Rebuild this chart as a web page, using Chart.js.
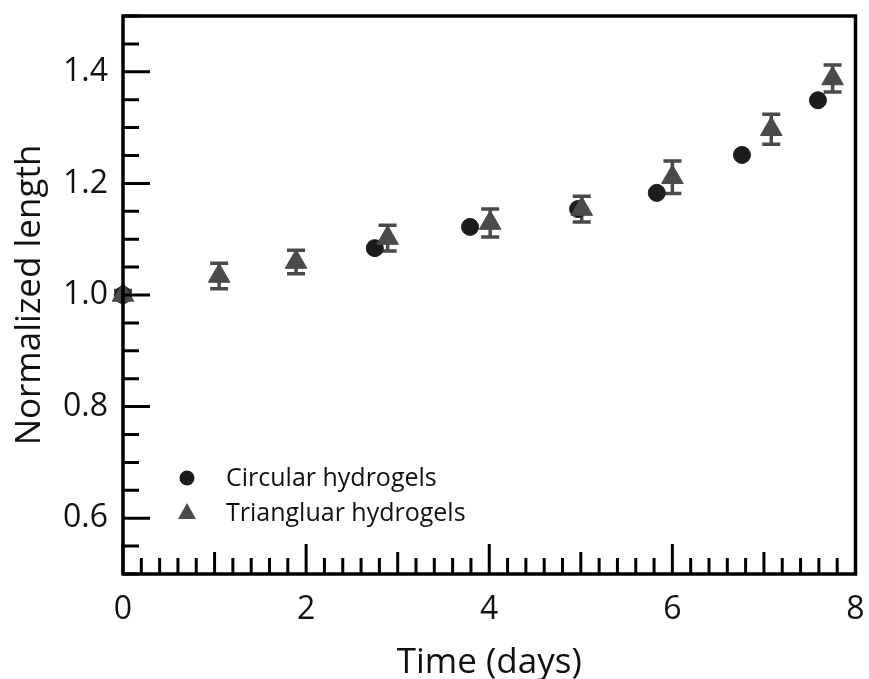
<!DOCTYPE html>
<html>
<head>
<meta charset="utf-8">
<script src="https://cdn.jsdelivr.net/npm/chart.js@4"></script>
<style>
  html, body { margin: 0; padding: 0; background: #fff; }
  #hydrogel_chart_box { width: 869px; height: 679px; }
</style>
</head>
<body>
<div id="hydrogel_chart_box"><canvas id="hydrogel_chart"></canvas></div>
<script>
// Normalized hydrogel length over time

const circular_days = [0, 2.75, 3.79, 4.97, 5.83, 6.76, 7.59]
const circular_length = [1.0, 1.084, 1.122, 1.154, 1.183, 1.251, 1.349]

const triangular_days = [0, 1.05, 1.89, 2.89, 4.01, 5.01, 6.0, 7.08, 7.75]
const triangular_length = [1.0, 1.034, 1.059, 1.102, 1.129, 1.154, 1.211, 1.297, 1.388]
const triangular_error = [0.008, 0.023, 0.021, 0.023, 0.025, 0.023, 0.029, 0.027, 0.024]

const x_tick_labels = [0, 2, 4, 6, 8]
const y_tick_labels = [0.6, 0.8, 1.0, 1.2, 1.4]

const font_family = '"Open Sans", "DejaVu Sans", sans-serif'
const circle_color = '#1c1c1c'
const triangle_color = '#4a4a4a'

const near = (a, b) => Math.abs(a - b) < 1e-6

// error bars drawn under the triangles
const error_bars = {
  id: 'error_bars',
  beforeDatasetsDraw(chart) {
    const { ctx, scales: { x, y } } = chart
    ctx.save()
    ctx.strokeStyle = triangle_color
    ctx.lineWidth = 3.5
    triangular_days.forEach((day, i) => {
      const px = x.getPixelForValue(day)
      const top = y.getPixelForValue(triangular_length[i] + triangular_error[i])
      const bottom = y.getPixelForValue(triangular_length[i] - triangular_error[i])
      ctx.beginPath()
      ctx.moveTo(px, top); ctx.lineTo(px, bottom)
      ctx.moveTo(px - 9, top); ctx.lineTo(px + 9, top)
      ctx.moveTo(px - 9, bottom); ctx.lineTo(px + 9, bottom)
      ctx.stroke()
    })
    ctx.restore()
  }
}

// frame plus ticks pointing into the plot
const inward_ticks = {
  id: 'inward_ticks',
  afterDraw(chart) {
    const { ctx, chartArea: area, scales: { x, y } } = chart
    ctx.save()
    ctx.strokeStyle = '#000'
    ctx.lineWidth = 3
    ctx.beginPath()
    x.ticks.forEach(t => {
      const px = x.getPixelForValue(t.value)
      let len = 16
      if (near(t.value / 2, Math.round(t.value / 2))) len = 30
      else if (near(t.value, Math.round(t.value))) len = 22
      ctx.moveTo(px, area.bottom)
      ctx.lineTo(px, area.bottom - len)
    })
    y.ticks.forEach(t => {
      const py = y.getPixelForValue(t.value)
      const len = near(t.value * 5, Math.round(t.value * 5)) ? 27 : 16
      ctx.moveTo(area.left, py)
      ctx.lineTo(area.left + len, py)
    })
    ctx.stroke()
    ctx.lineWidth = 3.5
    ctx.strokeRect(area.left, area.top, area.right - area.left, area.bottom - area.top)
    ctx.restore()
  }
}

// legend sitting inside the plot, lower left
const inner_legend = {
  id: 'inner_legend',
  afterDraw(chart) {
    const { ctx, chartArea: area } = chart
    ctx.save()
    ctx.font = '25px ' + font_family
    ctx.textBaseline = 'middle'
    chart.data.datasets.forEach((ds, i) => {
      const cy = area.top + 462 + i * 35
      const cx = area.left + 64
      ctx.fillStyle = ds.backgroundColor
      ctx.beginPath()
      if (ds.pointStyle === 'triangle') {
        ctx.moveTo(cx, cy - 10)
        ctx.lineTo(cx + 9, cy + 6)
        ctx.lineTo(cx - 9, cy + 6)
        ctx.closePath()
      } else {
        ctx.arc(cx, cy, 7.5, 0, Math.PI * 2)
      }
      ctx.fill()
      ctx.fillStyle = '#111'
      ctx.fillText(ds.label, area.left + 103, cy + 1)
    })
    ctx.restore()
  }
}

const ctx = document.getElementById('hydrogel_chart').getContext('2d')

const hydrogel_chart = new Chart(ctx, {
  type: 'scatter',
  data: {
    datasets: [
      {
        label: 'Circular hydrogels',
        data: circular_days.map((d, i) => ({ x: d, y: circular_length[i] })),
        pointStyle: 'circle',
        pointRadius: 8.5,
        backgroundColor: circle_color,
        borderColor: circle_color,
        clip: false,
        order: 2
      },
      {
        label: 'Triangluar hydrogels',
        data: triangular_days.map((d, i) => ({ x: d, y: triangular_length[i] })),
        pointStyle: 'triangle',
        pointRadius: 12.5,
        backgroundColor: triangle_color,
        borderColor: triangle_color,
        clip: false,
        order: 1
      }]
  },
  options: {
    responsive: true,
    maintainAspectRatio: false,
    animation: false,
    layout: { padding: { top: 16, right: 12, left: 0, bottom: 0 } },
    plugins: {
      legend: { display: false },
      tooltip: { enabled: false }
    },
    scales: {
      x: {
        type: 'linear',
        min: 0,
        max: 8,
        afterFit: scale => {
          scale.height = 105
          scale.paddingLeft = 0
          scale.paddingRight = 0
        },
        grid: { display: false },
        border: { display: false },
        ticks: {
          stepSize: 0.2,
          autoSkip: false,
          maxRotation: 0,
          padding: 9,
          color: '#111',
          font: { family: font_family, size: 32 },
          callback: v => x_tick_labels.some(l => near(l, v)) ? String(Math.round(v)) : ''
        },
        title: {
          display: true,
          text: 'Time (days)',
          color: '#111',
          font: { family: font_family, size: 35, lineHeight: 0.9 },
          padding: { top: 0, bottom: 0 }
        }
      },
      y: {
        min: 0.5,
        max: 1.5,
        afterFit: scale => {
          scale.width = 123
          scale.paddingTop = 0
          scale.paddingBottom = 0
        },
        grid: { display: false },
        border: { display: false },
        ticks: {
          stepSize: 0.05,
          maxTicksLimit: 100,
          autoSkip: false,
          padding: 7,
          color: '#111',
          font: { family: font_family, size: 32 },
          callback: v => y_tick_labels.some(l => near(l, v)) ? v.toFixed(1) : ''
        },
        title: {
          display: true,
          text: 'Normalized length',
          color: '#111',
          font: { family: font_family, size: 35 },
          padding: { top: 9, bottom: 0 }
        }
      }
    }
  },
  plugins: [error_bars, inward_ticks, inner_legend]
})
</script>
</body>
</html>
